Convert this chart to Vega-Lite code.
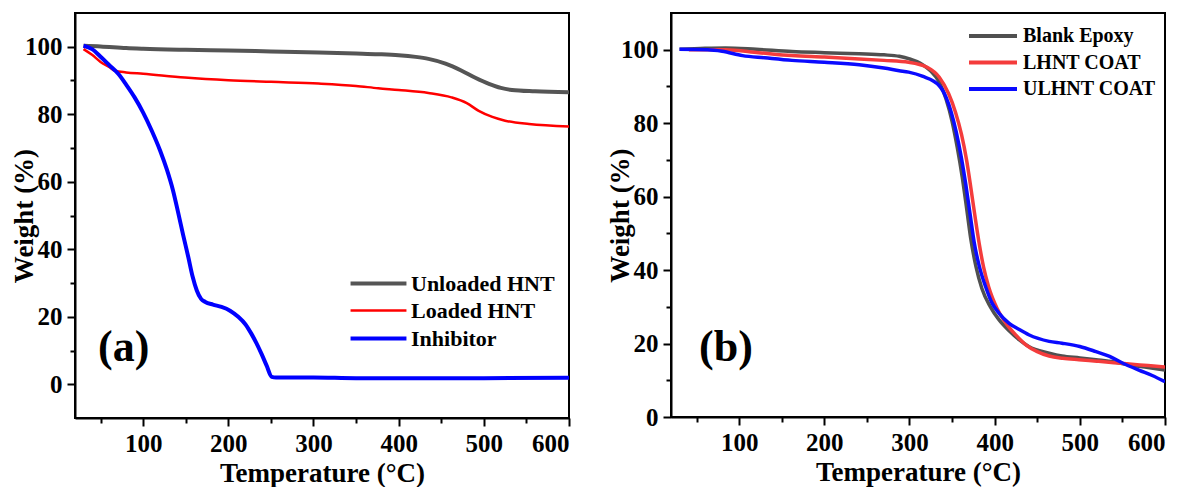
{
  "$schema": "https://vega.github.io/schema/vega-lite/v6.json",
  "background": "white",
  "padding": {"left": 9, "top": 12, "right": 0, "bottom": 0},
  "spacing": 34,
  "resolve": {"scale": {"color": "independent", "strokeWidth": "independent"}, "legend": {"color": "independent", "strokeWidth": "independent"}},
  "config": {
    "view": {"stroke": "black", "strokeWidth": 2},
    "axis": {
      "domainColor": "black", "domainWidth": 2, "tickColor": "black", "tickWidth": 2,
      "grid": false, "labelFont": "Liberation Serif", "labelFontWeight": "bold", "labelFontSize": 25,
      "labelColor": "black", "titleFont": "Liberation Serif", "titleFontWeight": "bold", "titleFontSize": 27,
      "titleColor": "black", "labelPadding": 5
    },
    "axisY": {"titlePadding": -14},
    "legend": {
      "labelFont": "Liberation Serif", "labelFontWeight": "bold", "labelColor": "black", "symbolOpacity": 1
    }
  },
  "hconcat": [
    {
      "width": 494, "height": 405,
      "layer": [
        {
          "data": {"values": [
            {"series": "Unloaded HNT", "T": 30, "W": 100.3},
            {"series": "Unloaded HNT", "T": 50, "W": 100.1},
            {"series": "Unloaded HNT", "T": 80, "W": 99.6},
            {"series": "Unloaded HNT", "T": 100, "W": 99.4},
            {"series": "Unloaded HNT", "T": 150, "W": 99.1},
            {"series": "Unloaded HNT", "T": 200, "W": 98.9},
            {"series": "Unloaded HNT", "T": 250, "W": 98.6},
            {"series": "Unloaded HNT", "T": 306, "W": 98.3},
            {"series": "Unloaded HNT", "T": 350, "W": 98.0},
            {"series": "Unloaded HNT", "T": 376, "W": 97.8},
            {"series": "Unloaded HNT", "T": 400, "W": 97.5},
            {"series": "Unloaded HNT", "T": 420, "W": 97.0},
            {"series": "Unloaded HNT", "T": 435, "W": 96.4},
            {"series": "Unloaded HNT", "T": 455, "W": 95.0},
            {"series": "Unloaded HNT", "T": 474, "W": 92.9},
            {"series": "Unloaded HNT", "T": 490, "W": 90.8},
            {"series": "Unloaded HNT", "T": 506, "W": 89.0},
            {"series": "Unloaded HNT", "T": 520, "W": 87.8},
            {"series": "Unloaded HNT", "T": 533, "W": 87.2},
            {"series": "Unloaded HNT", "T": 560, "W": 86.8},
            {"series": "Unloaded HNT", "T": 600, "W": 86.5},
            {"series": "Loaded HNT", "T": 30, "W": 99.3},
            {"series": "Loaded HNT", "T": 40, "W": 97.6},
            {"series": "Loaded HNT", "T": 50, "W": 95.5},
            {"series": "Loaded HNT", "T": 60, "W": 94.0},
            {"series": "Loaded HNT", "T": 67, "W": 92.9},
            {"series": "Loaded HNT", "T": 80, "W": 92.4},
            {"series": "Loaded HNT", "T": 100, "W": 92.0},
            {"series": "Loaded HNT", "T": 149, "W": 90.9},
            {"series": "Loaded HNT", "T": 200, "W": 90.1},
            {"series": "Loaded HNT", "T": 250, "W": 89.6},
            {"series": "Loaded HNT", "T": 306, "W": 89.1},
            {"series": "Loaded HNT", "T": 350, "W": 88.4},
            {"series": "Loaded HNT", "T": 376, "W": 87.7},
            {"series": "Loaded HNT", "T": 400, "W": 87.2},
            {"series": "Loaded HNT", "T": 435, "W": 86.3},
            {"series": "Loaded HNT", "T": 462, "W": 85.0},
            {"series": "Loaded HNT", "T": 480, "W": 83.3},
            {"series": "Loaded HNT", "T": 494, "W": 81.0},
            {"series": "Loaded HNT", "T": 510, "W": 79.2},
            {"series": "Loaded HNT", "T": 525, "W": 78.1},
            {"series": "Loaded HNT", "T": 553, "W": 77.1},
            {"series": "Loaded HNT", "T": 600, "W": 76.4},
            {"series": "Inhibitor", "T": 30, "W": 100.3},
            {"series": "Inhibitor", "T": 40, "W": 99.3},
            {"series": "Inhibitor", "T": 51, "W": 96.8},
            {"series": "Inhibitor", "T": 60, "W": 94.6},
            {"series": "Inhibitor", "T": 71, "W": 91.9},
            {"series": "Inhibitor", "T": 80, "W": 88.8},
            {"series": "Inhibitor", "T": 90, "W": 85.0},
            {"series": "Inhibitor", "T": 100, "W": 80.5},
            {"series": "Inhibitor", "T": 110, "W": 75.2},
            {"series": "Inhibitor", "T": 120, "W": 69.2},
            {"series": "Inhibitor", "T": 128, "W": 63.5},
            {"series": "Inhibitor", "T": 135, "W": 57.5},
            {"series": "Inhibitor", "T": 141, "W": 51.0},
            {"series": "Inhibitor", "T": 147, "W": 44.2},
            {"series": "Inhibitor", "T": 153, "W": 37.7},
            {"series": "Inhibitor", "T": 158, "W": 32.0},
            {"series": "Inhibitor", "T": 163, "W": 27.8},
            {"series": "Inhibitor", "T": 168, "W": 25.3},
            {"series": "Inhibitor", "T": 173, "W": 24.4},
            {"series": "Inhibitor", "T": 182, "W": 23.6},
            {"series": "Inhibitor", "T": 192, "W": 22.9},
            {"series": "Inhibitor", "T": 202, "W": 21.8},
            {"series": "Inhibitor", "T": 212, "W": 19.9},
            {"series": "Inhibitor", "T": 220, "W": 17.8},
            {"series": "Inhibitor", "T": 227, "W": 15.0},
            {"series": "Inhibitor", "T": 233, "W": 12.2},
            {"series": "Inhibitor", "T": 239, "W": 9.0},
            {"series": "Inhibitor", "T": 245, "W": 5.5},
            {"series": "Inhibitor", "T": 251, "W": 2.2},
            {"series": "Inhibitor", "T": 256, "W": 2.0},
            {"series": "Inhibitor", "T": 300, "W": 2.0},
            {"series": "Inhibitor", "T": 350, "W": 1.8},
            {"series": "Inhibitor", "T": 400, "W": 1.8},
            {"series": "Inhibitor", "T": 500, "W": 1.8},
            {"series": "Inhibitor", "T": 600, "W": 1.9}
          ]},
          "mark": {"type": "line", "interpolate": "monotone", "clip": true},
          "encoding": {
            "x": {"field": "T", "type": "quantitative",
              "scale": {"domain": [20, 600], "nice": false, "zero": false},
              "axis": {"title": "Temperature (°C)",
                "values": [50, 100, 150, 200, 250, 300, 350, 400, 450, 500, 550, 600],
                "labelExpr": "datum.value % 100 === 0 ? datum.label : ''",
                "tickSize": {"condition": {"test": "datum.value % 100 === 0", "value": 8}, "value": 5}}},
            "y": {"field": "W", "type": "quantitative",
              "scale": {"domain": [-10, 110], "nice": false, "zero": false},
              "axis": {"title": "Weight (%)",
                "values": [0, 10, 20, 30, 40, 50, 60, 70, 80, 90, 100],
                "labelExpr": "datum.value % 20 === 0 ? datum.label : ''",
                "tickSize": {"condition": {"test": "datum.value % 20 === 0", "value": 8}, "value": 5}}},
            "color": {"field": "series", "type": "nominal",
              "scale": {"domain": ["Unloaded HNT", "Loaded HNT", "Inhibitor"], "range": ["#555555", "#ff0000", "#0000ff"]},
              "legend": {"orient": "none", "legendX": 290, "legendY": 257, "title": null,
                "labelFontSize": 22, "symbolType": "M-2.5,0H2.5", "symbolSize": 500, "rowPadding": 3, "labelOffset": 19}},
            "strokeWidth": {"field": "series", "type": "nominal",
              "scale": {"type": "ordinal", "domain": ["Unloaded HNT", "Loaded HNT", "Inhibitor"], "range": [4, 2.5, 4]},
              "legend": {"orient": "none", "legendX": 290, "legendY": 257, "title": null,
                "labelFontSize": 22, "symbolType": "M-2.5,0H2.5", "symbolSize": 500, "rowPadding": 3, "labelOffset": 19}},
            "order": {"field": "T", "type": "quantitative"}
          }
        },
        {
          "data": {"values": [{"label": "(a)", "T": 47, "W": 10.6}]},
          "mark": {"type": "text", "align": "left", "baseline": "middle", "font": "Liberation Serif", "fontWeight": "bold", "fontSize": 44, "color": "black"},
          "encoding": {
            "x": {"field": "T", "type": "quantitative"},
            "y": {"field": "W", "type": "quantitative"},
            "text": {"field": "label"}
          }
        }
      ]
    },
    {
      "width": 494, "height": 404,
      "layer": [
        {
          "data": {"values": [
            {"series": "Blank Epoxy", "T": 30, "W": 100.1},
            {"series": "Blank Epoxy", "T": 60, "W": 100.4},
            {"series": "Blank Epoxy", "T": 84, "W": 100.5},
            {"series": "Blank Epoxy", "T": 120, "W": 100.1},
            {"series": "Blank Epoxy", "T": 162, "W": 99.5},
            {"series": "Blank Epoxy", "T": 200, "W": 99.2},
            {"series": "Blank Epoxy", "T": 241, "W": 98.9},
            {"series": "Blank Epoxy", "T": 270, "W": 98.6},
            {"series": "Blank Epoxy", "T": 288, "W": 98.2},
            {"series": "Blank Epoxy", "T": 300, "W": 97.5},
            {"series": "Blank Epoxy", "T": 315, "W": 96.0},
            {"series": "Blank Epoxy", "T": 325, "W": 94.2},
            {"series": "Blank Epoxy", "T": 335, "W": 91.2},
            {"series": "Blank Epoxy", "T": 343, "W": 86.5},
            {"series": "Blank Epoxy", "T": 350, "W": 80.5},
            {"series": "Blank Epoxy", "T": 356, "W": 73.5},
            {"series": "Blank Epoxy", "T": 362, "W": 65.2},
            {"series": "Blank Epoxy", "T": 367, "W": 57.0},
            {"series": "Blank Epoxy", "T": 372, "W": 48.5},
            {"series": "Blank Epoxy", "T": 378, "W": 41.0},
            {"series": "Blank Epoxy", "T": 385, "W": 35.0},
            {"series": "Blank Epoxy", "T": 395, "W": 30.0},
            {"series": "Blank Epoxy", "T": 405, "W": 26.5},
            {"series": "Blank Epoxy", "T": 417, "W": 23.5},
            {"series": "Blank Epoxy", "T": 429, "W": 21.0},
            {"series": "Blank Epoxy", "T": 440, "W": 19.2},
            {"series": "Blank Epoxy", "T": 464, "W": 17.4},
            {"series": "Blank Epoxy", "T": 479, "W": 16.6},
            {"series": "Blank Epoxy", "T": 500, "W": 16.1},
            {"series": "Blank Epoxy", "T": 519, "W": 15.6},
            {"series": "Blank Epoxy", "T": 540, "W": 15.0},
            {"series": "Blank Epoxy", "T": 558, "W": 14.2},
            {"series": "Blank Epoxy", "T": 580, "W": 13.5},
            {"series": "Blank Epoxy", "T": 600, "W": 12.8},
            {"series": "LHNT COAT", "T": 41, "W": 100.0},
            {"series": "LHNT COAT", "T": 84, "W": 100.0},
            {"series": "LHNT COAT", "T": 123, "W": 99.2},
            {"series": "LHNT COAT", "T": 162, "W": 98.4},
            {"series": "LHNT COAT", "T": 200, "W": 98.0},
            {"series": "LHNT COAT", "T": 241, "W": 97.5},
            {"series": "LHNT COAT", "T": 270, "W": 97.1},
            {"series": "LHNT COAT", "T": 299, "W": 96.6},
            {"series": "LHNT COAT", "T": 320, "W": 95.3},
            {"series": "LHNT COAT", "T": 335, "W": 92.5},
            {"series": "LHNT COAT", "T": 346, "W": 88.0},
            {"series": "LHNT COAT", "T": 354, "W": 83.0},
            {"series": "LHNT COAT", "T": 361, "W": 77.0},
            {"series": "LHNT COAT", "T": 367, "W": 70.0},
            {"series": "LHNT COAT", "T": 372, "W": 62.5},
            {"series": "LHNT COAT", "T": 377, "W": 54.5},
            {"series": "LHNT COAT", "T": 382, "W": 47.0},
            {"series": "LHNT COAT", "T": 387, "W": 40.8},
            {"series": "LHNT COAT", "T": 393, "W": 35.4},
            {"series": "LHNT COAT", "T": 403, "W": 29.5},
            {"series": "LHNT COAT", "T": 413, "W": 25.6},
            {"series": "LHNT COAT", "T": 425, "W": 22.3},
            {"series": "LHNT COAT", "T": 437, "W": 19.6},
            {"series": "LHNT COAT", "T": 450, "W": 17.8},
            {"series": "LHNT COAT", "T": 464, "W": 16.6},
            {"series": "LHNT COAT", "T": 480, "W": 16.0},
            {"series": "LHNT COAT", "T": 499, "W": 15.6},
            {"series": "LHNT COAT", "T": 520, "W": 15.2},
            {"series": "LHNT COAT", "T": 540, "W": 14.8},
            {"series": "LHNT COAT", "T": 558, "W": 14.4},
            {"series": "LHNT COAT", "T": 580, "W": 14.0},
            {"series": "LHNT COAT", "T": 600, "W": 13.6},
            {"series": "ULHNT COAT", "T": 30, "W": 100.1},
            {"series": "ULHNT COAT", "T": 63, "W": 100.0},
            {"series": "ULHNT COAT", "T": 80, "W": 99.6},
            {"series": "ULHNT COAT", "T": 104, "W": 98.4},
            {"series": "ULHNT COAT", "T": 130, "W": 97.8},
            {"series": "ULHNT COAT", "T": 162, "W": 97.1},
            {"series": "ULHNT COAT", "T": 200, "W": 96.6},
            {"series": "ULHNT COAT", "T": 241, "W": 95.9},
            {"series": "ULHNT COAT", "T": 270, "W": 95.0},
            {"series": "ULHNT COAT", "T": 288, "W": 94.3},
            {"series": "ULHNT COAT", "T": 299, "W": 93.9},
            {"series": "ULHNT COAT", "T": 315, "W": 92.8},
            {"series": "ULHNT COAT", "T": 335, "W": 90.2},
            {"series": "ULHNT COAT", "T": 343, "W": 87.0},
            {"series": "ULHNT COAT", "T": 349, "W": 83.0},
            {"series": "ULHNT COAT", "T": 355, "W": 77.5},
            {"series": "ULHNT COAT", "T": 361, "W": 70.5},
            {"series": "ULHNT COAT", "T": 366, "W": 63.5},
            {"series": "ULHNT COAT", "T": 371, "W": 55.5},
            {"series": "ULHNT COAT", "T": 376, "W": 47.5},
            {"series": "ULHNT COAT", "T": 382, "W": 41.0},
            {"series": "ULHNT COAT", "T": 389.5, "W": 35.4},
            {"series": "ULHNT COAT", "T": 397, "W": 31.0},
            {"series": "ULHNT COAT", "T": 405, "W": 28.3},
            {"series": "ULHNT COAT", "T": 417, "W": 25.5},
            {"series": "ULHNT COAT", "T": 429, "W": 23.8},
            {"series": "ULHNT COAT", "T": 440, "W": 22.4},
            {"series": "ULHNT COAT", "T": 464, "W": 20.6},
            {"series": "ULHNT COAT", "T": 479, "W": 20.1},
            {"series": "ULHNT COAT", "T": 500, "W": 19.2},
            {"series": "ULHNT COAT", "T": 519, "W": 17.8},
            {"series": "ULHNT COAT", "T": 535, "W": 16.5},
            {"series": "ULHNT COAT", "T": 550, "W": 14.7},
            {"series": "ULHNT COAT", "T": 570, "W": 12.7},
            {"series": "ULHNT COAT", "T": 585, "W": 11.3},
            {"series": "ULHNT COAT", "T": 600, "W": 9.6}
          ]},
          "mark": {"type": "line", "interpolate": "monotone", "clip": true, "strokeWidth": 3.5},
          "encoding": {
            "x": {"field": "T", "type": "quantitative",
              "scale": {"domain": [20, 600], "nice": false, "zero": false},
              "axis": {"title": "Temperature (°C)",
                "values": [50, 100, 150, 200, 250, 300, 350, 400, 450, 500, 550, 600],
                "labelExpr": "datum.value % 100 === 0 ? datum.label : ''",
                "tickSize": {"condition": {"test": "datum.value % 100 === 0", "value": 8}, "value": 5}}},
            "y": {"field": "W", "type": "quantitative",
              "scale": {"domain": [0, 110], "nice": false, "zero": false},
              "axis": {"title": "Weight (%)",
                "values": [0, 10, 20, 30, 40, 50, 60, 70, 80, 90, 100],
                "labelExpr": "datum.value % 20 === 0 ? datum.label : ''",
                "tickSize": {"condition": {"test": "datum.value % 20 === 0", "value": 8}, "value": 5}}},
            "color": {"field": "series", "type": "nominal",
              "scale": {"domain": ["Blank Epoxy", "LHNT COAT", "ULHNT COAT"], "range": ["#505050", "#f43c3c", "#0a0aff"]},
              "legend": {"orient": "none", "legendX": 310, "legendY": 11, "title": null,
                "labelFontSize": 20, "symbolType": "M-2.4,0H2.4", "symbolSize": 400, "symbolStrokeWidth": 4, "rowPadding": 4.5, "labelOffset": 18}},
            "order": {"field": "T", "type": "quantitative"}
          }
        },
        {
          "data": {"values": [{"label": "(b)", "T": 53, "W": 18.9}]},
          "mark": {"type": "text", "align": "left", "baseline": "middle", "font": "Liberation Serif", "fontWeight": "bold", "fontSize": 44, "color": "black"},
          "encoding": {
            "x": {"field": "T", "type": "quantitative"},
            "y": {"field": "W", "type": "quantitative"},
            "text": {"field": "label"}
          }
        }
      ]
    }
  ]
}
